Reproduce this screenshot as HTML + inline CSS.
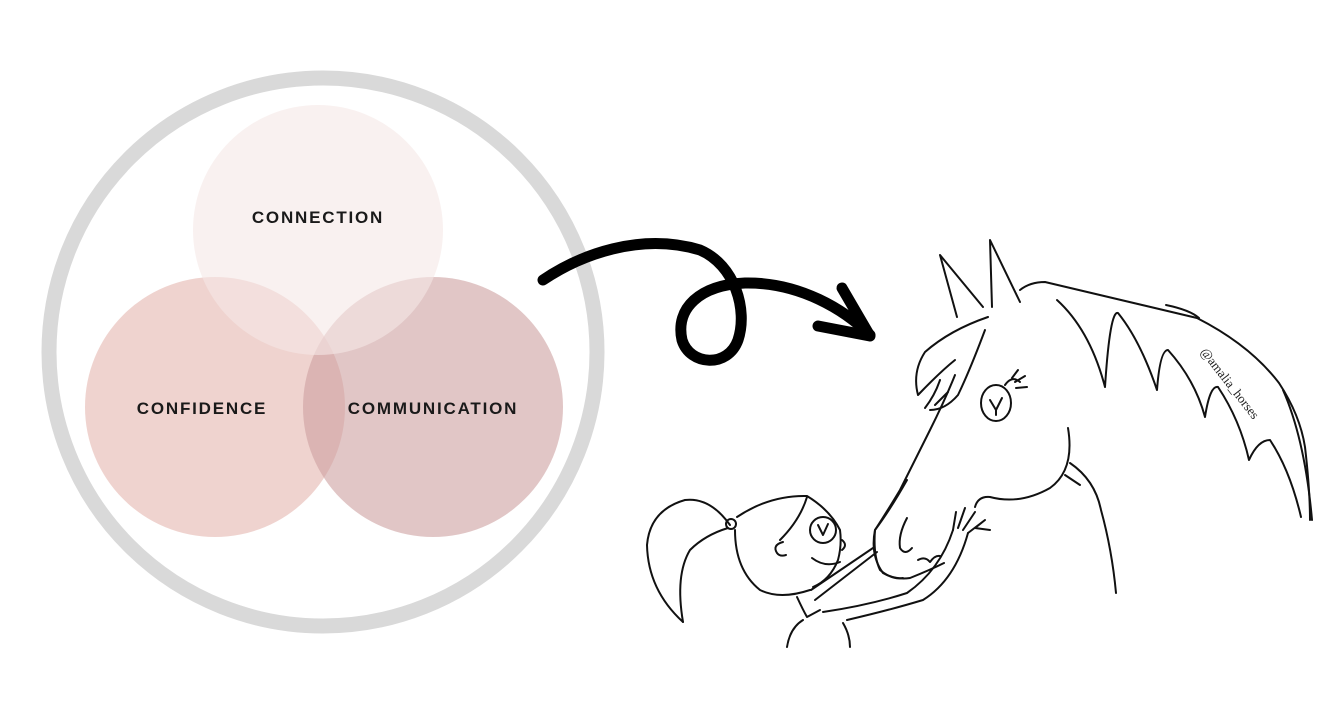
<!DOCTYPE html>
<html><head><meta charset="utf-8"><style>
html,body{margin:0;padding:0;background:#fff;}
.w{position:relative;width:1328px;height:722px;overflow:hidden;background:#fff;font-family:"Liberation Sans",sans-serif;}
</style></head><body><div class="w">
<svg width="1328" height="722" viewBox="0 0 1328 722" xmlns="http://www.w3.org/2000/svg">
<circle cx="323" cy="352" r="274" fill="none" stroke="#d9d9d9" stroke-width="15"/>
<circle cx="215" cy="407" r="130" fill="rgb(225,175,168)" fill-opacity="0.55"/>
<circle cx="433" cy="407" r="130" fill="rgb(205,160,160)" fill-opacity="0.6"/>
<circle cx="318" cy="230" r="125" fill="rgb(245,232,230)" fill-opacity="0.6"/>
<g font-family="Liberation Sans, sans-serif" font-weight="bold" font-size="17" letter-spacing="1.8" fill="#1a1a1a" text-anchor="middle">
<text x="318" y="223">CONNECTION</text>
<text x="202" y="414">CONFIDENCE</text>
<text x="433" y="414">COMMUNICATION</text>
</g>
<g fill="none" stroke="#000" stroke-linecap="round" stroke-linejoin="round">
<path d="M543,280 C580,255 640,232 700,250 C735,265 748,310 738,340 C728,368 690,366 682,340 C675,308 700,285 745,283 C800,282 845,310 870,335" stroke-width="11"/>
<path d="M842,288 L870,336 L818,326" stroke-width="11"/>
</g>
<g fill="none" stroke="#111" stroke-width="2" stroke-linecap="round" stroke-linejoin="round">
<!-- ears -->
<path d="M957,317 L940,255 L983,307"/>
<path d="M992,307 L990,240 L1020,302"/>
<!-- top of neck and mane outer -->
<path d="M1020,290 Q1030,282 1045,282 L1197,318 Q1250,345 1279,383 Q1300,415 1305,447 Q1310,490 1310,520"/>
<path d="M1057,300 Q1090,330 1105,387 Q1110,310 1118,313 Q1140,340 1157,390 Q1160,350 1168,350 Q1195,380 1205,417 Q1210,385 1218,387 Q1240,420 1249,460 Q1258,440 1270,440 Q1290,470 1301,517"/>
<path d="M1166,305 Q1190,310 1199,318"/>
<path d="M1283,390 Q1305,440 1312,520"/>
<!-- forelock -->
<path d="M988,317 Q950,330 925,352 Q912,372 918,395 Q940,372 955,360"/>
<path d="M985,330 Q970,370 958,395 Q945,410 930,410"/>
<path d="M940,380 Q935,395 925,408 M948,392 L935,405"/>
<!-- face -->
<path d="M955,375 Q945,400 930,430 Q915,460 900,490 Q888,510 875,530 Q870,555 883,573 Q895,580 910,578 Q930,570 944,563"/>
<!-- jaw -->
<path d="M1068,428 Q1075,470 1050,488 Q1020,505 990,497 Q978,496 975,507"/>
<!-- neck -->
<path d="M1070,463 Q1095,480 1101,510 Q1112,550 1116,593"/>
<path d="M1065,475 L1080,485"/>
<!-- eye -->
<ellipse cx="996" cy="403" rx="15" ry="18"/>
<path d="M990,400 L996,410 L1002,398 M996,410 L996,415"/>
<path d="M1005,385 Q1012,375 1020,382 M1012,378 L1018,370 M1015,382 L1025,376 M1016,388 L1027,387"/>
<!-- nostril/mouth -->
<path d="M907,518 Q898,535 900,548 Q905,556 912,548"/>
<path d="M918,560 Q925,556 930,562 Q935,555 940,556"/>
<!-- girl ponytail -->
<path d="M730,525 Q710,497 685,500 Q650,510 647,545 Q648,590 683,622"/>
<path d="M728,528 Q705,535 690,550 Q675,575 683,622"/>
<circle cx="731" cy="524" r="5"/>
<!-- girl head -->
<path d="M737,517 Q770,495 807,496 Q830,510 840,530 Q842,545 838,560 Q830,580 813,587"/>
<path d="M735,530 Q735,570 760,590 Q780,600 810,590"/>
<path d="M807,497 Q800,520 780,540"/>
<path d="M783,542 Q772,545 777,553 Q780,557 786,555"/>
<circle cx="823" cy="530" r="13"/>
<path d="M818,525 L823,535 L828,524"/>
<path d="M842,540 Q848,545 842,550"/>
<path d="M812,558 Q825,568 840,562"/>
<!-- strap/neck/body -->
<path d="M811,590 L873,548 M815,600 L877,552"/>
<path d="M797,597 Q803,610 807,617 L820,610"/>
<path d="M787,647 Q790,628 803,620"/>
<path d="M843,623 Q850,635 850,647"/>
<!-- arm -->
<path d="M823,612 Q870,605 907,593 Q940,570 953,530"/>
<path d="M847,620 Q890,610 923,600 Q955,580 968,533"/>
<path d="M953,530 L956,512 M958,528 L965,508 M963,530 L975,512 M968,533 L985,520 L975,528 L990,530"/>
<!-- muzzle -->
<path d="M907,480 Q890,510 875,530 Q873,555 880,570 Q892,580 903,578"/>
</g>
<text x="1200" y="352" font-family="Liberation Serif, serif" font-size="13" fill="#222" transform="rotate(52 1200 352)">@amalia_horses</text>
</svg>
</div></body></html>
